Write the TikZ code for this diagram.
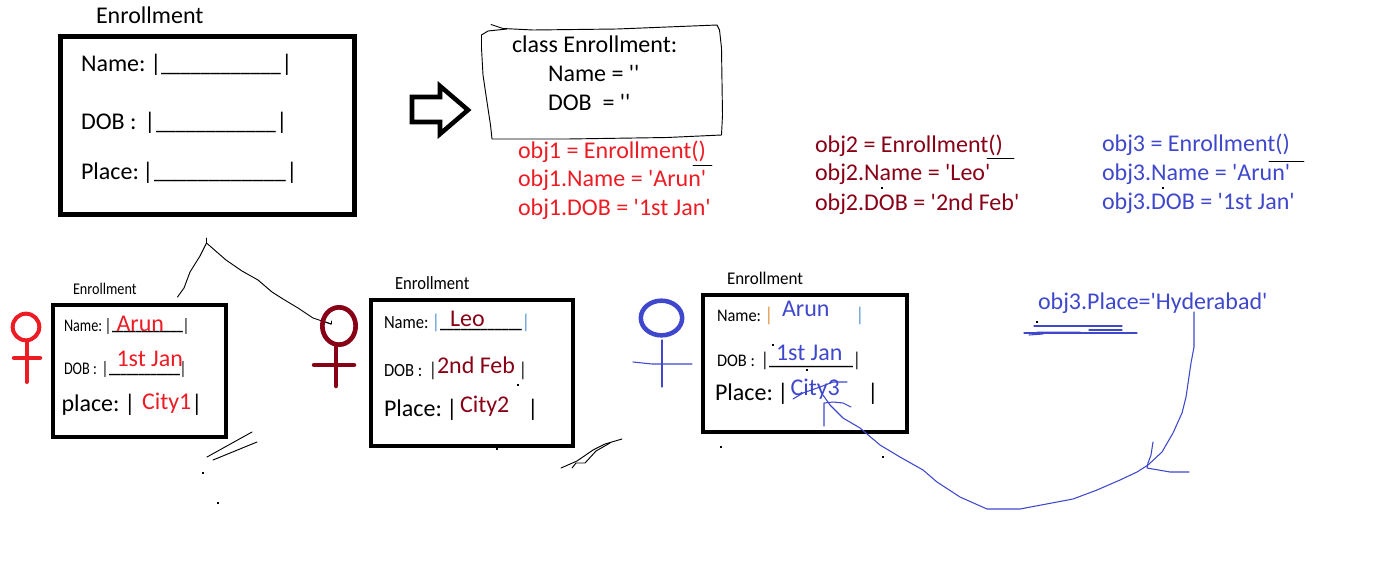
\documentclass[tikz,border=0pt]{standalone}
\usepackage{fontspec}
\usepackage{graphicx}
\usetikzlibrary{shapes.geometric}
\setmainfont[Ligatures=TeXOff]{Carlito}
\definecolor{rd}{HTML}{ED1C24}
\definecolor{mar}{HTML}{880015}
\definecolor{blu}{HTML}{3F48CC}
\definecolor{barb}{HTML}{4A8FCF}
\definecolor{baro}{HTML}{D98A30}
\newlength{\pxu}\setlength{\pxu}{0.75pt}
\newsavebox{\ubx}
\newcommand{\ublank}[1]{\sbox{\ubx}{\_\_\_\_\_\_\_\_\_\_\_\_}\pgfmathsetmacro{\ubr}{#1*0.75/\wd\ubx}\scalebox{\ubr}[1]{\usebox{\ubx}}}
\newcommand{\stretchy}[3]{\scalebox{1}[#2]{\fontsize{#1\pxu}{#1\pxu}\selectfont #3}}
\tikzset{
  txt/.style={anchor=base west,inner sep=0pt,outer sep=0pt,font=\fontsize{18pt}{20pt}\selectfont},
  vbar/.style={anchor=base,inner sep=0pt,outer sep=0pt,font=\fontsize{18pt}{20pt}\selectfont},
  smbar/.style={anchor=base,inner sep=0pt,outer sep=0pt},
  formbox/.style={draw=black,line width=#1*0.75pt,miter limit=10},
  pen/.style={line width=0.8pt,line join=round,line cap=round},
  inkblue/.style={pen,draw=blu},
  inkblack/.style={line width=0.7pt,line join=round,line cap=round,draw=black},
  sym/.style={line width=#1*0.75pt,line cap=round},
  speck/.style={fill=black,inner sep=0pt,minimum size=0.8pt,shape=rectangle},
}
\begin{document}
\begin{tikzpicture}[x=0.75pt,y=-0.75pt]
\useasboundingbox (0,0) rectangle (1400,572);
% ---------- Blank form
\node[txt] (t0) at (96,23) {Enrollment};
\draw[formbox=5] (60.5,36.5) rectangle (354.5,214.5);
\node[txt] (n0) at (81,71) {Name:};
\node[vbar] (n0a) at (156,71) {|};
\node[txt] (n0u) at (161,71) {\ublank{120}};
\node[vbar] (n0b) at (287,71) {|};
\node[txt] (d0) at (81,129) {DOB :};
\node[vbar] (d0a) at (150,129) {|};
\node[txt] (d0u) at (156,129) {\ublank{120}};
\node[vbar] (d0b) at (282,129) {|};
\node[txt] (p0) at (81,179) {Place:};
\node[vbar] (p0a) at (148,179) {|};
\node[txt] (p0u) at (154,178.5) {\ublank{132}};
\node[vbar] (p0b) at (292,179) {|};
% ---------- Arrow
\draw[line width=3.4pt,miter limit=10] (412,97) -- (440,97) -- (440,86) -- (468,110) -- (440,134) -- (440,122) -- (412,122) -- cycle;
% ---------- Class box
\draw[inkblack] (491,24.5) -- (503,28.5) -- (533,30) -- (617,29) -- (717,25) -- (719.5,30) -- (721.5,48) -- (722,82) -- (722.5,115) -- (721.5,135) -- (667,137.5) -- (567,139) -- (492,139) -- (490.5,125) -- (487,102) -- (483,75) -- (481.5,48) -- (481.5,35) -- (488,31) -- (507,29);
\node[txt] (c1) at (512,52) {class Enrollment:};
\node[txt] (c2) at (548,81) {Name = ''};
\node[txt] (c3) at (548,110) {DOB\ \ = ''};
% ---------- Objects
\begin{scope}[every node/.append style={text=rd}]
\node[txt] (o11) at (518,158) {obj1 = Enrollment()};
\node[txt] (o12) at (518,186) {obj1.Name = 'Arun'};
\node[txt] (o13) at (518,215) {obj1.DOB = '1st Jan'};
\end{scope}
\draw[pen,line width=0.6pt] (693,165) -- (712,165);
\begin{scope}[every node/.append style={text=mar}]
\node[txt] (o21) at (815,152) {obj2 = Enrollment()};
\node[txt] (o22) at (815,180) {obj2.Name = 'Leo'};
\node[txt] (o23) at (815,210) {obj2.DOB = '2nd Feb'};
\end{scope}
\draw[pen,line width=0.6pt] (987,158) -- (1014,158);
\begin{scope}[every node/.append style={text=blu}]
\node[txt] (o31) at (1102,151) {obj3 = Enrollment()};
\node[txt] (o32) at (1102,180) {obj3.Name = 'Arun'};
\node[txt] (o33) at (1102,209) {obj3.DOB = '1st Jan'};
\node[txt] (hyd) at (1038,309) {obj3.Place='Hyderabad'};
\end{scope}
\draw[pen,line width=0.6pt] (1269,161) -- (1304,161);
% ---------- Tree from form to two instances
\coordinate (apex) at (206.5,243);
\coordinate (apt) at (206.5,238);
\coordinate (tl) at (177.5,297);
\coordinate (tr) at (331,324);
\draw[inkblack] (apt) -- (apex) -- (200,256) -- (190,272) -- (184,288) -- (tl);
\draw[inkblack] (apex) -- (226,260) -- (242,271) -- (258,280) -- (272,292) -- (283,299) -- (298,308) -- (313,318) -- (tr);
% ---------- Instance 1
\node[txt] (t1) at (73,294) {\stretchy{14.2}{1.15}{Enrollment}};
\draw[formbox=3.7] (53,305) rectangle (226,437);
\node[txt] (n1) at (64,331) {\stretchy{14.2}{1.25}{Name:}};
\node[smbar] (n1a) at (108,331) {\stretchy{15}{1.2}{|}};
\node[txt] (n1u) at (112,329.5) {\ublank{71}};
\node[smbar] (n1b) at (186,331) {\stretchy{15}{1.2}{|}};
\node[txt,text=rd] (n1v) at (116.5,331) {Arun};
\node[txt] (d1) at (64,374) {\stretchy{14.2}{1.25}{DOB :}};
\node[smbar] (d1a) at (105,374) {\stretchy{15}{1.2}{|}};
\node[txt] (d1u) at (109,372.5) {\ublank{71}};
\node[smbar] (d1b) at (183,374) {\stretchy{15}{1.2}{|}};
\node[txt,text=rd] (d1v) at (116.5,366) {1st Jan};
\node[txt] (p1) at (61.5,411) {place:};
\node[vbar] (p1a) at (130,411) {|};
\node[txt,text=rd] (p1v) at (142,409) {City1};
\node[vbar] (p1b) at (197,411) {|};
% Figure 1
\node[circle,draw=rd,line width=3pt,minimum size=20pt,inner sep=0pt] (f1) at (26,327) {};
\draw[draw=rd,sym=4] (26.5,342) -- (26.5,382);
\draw[draw=rd,sym=4.5] (14,358) -- (40,358);
% Scribbles
\draw[inkblack] (207,457) -- (225,447) -- (252,432);
\draw[inkblack] (213,460) -- (235,451) -- (257,442);
\node[speck] (s1) at (203,473) {};
\node[speck] (s2) at (218,503) {};
% ---------- Instance 2
\node[txt] (t2) at (395,289) {\stretchy{16.6}{1.12}{Enrollment}};
\draw[formbox=3.7] (371,300) rectangle (573,446);
\node[txt] (n2) at (384,328) {\stretchy{16.6}{1.12}{Name:}};
\node[smbar,text=barb] (n2a) at (436,328) {\stretchy{16.6}{1.2}{|}};
\node[txt] (n2u) at (440,327.5) {\ublank{82}};
\node[smbar,text=barb] (n2b) at (526,328) {\stretchy{16.6}{1.2}{|}};
\node[txt,text=mar] (n2v) at (450,326) {Leo};
\node[txt] (d2) at (384,376) {\stretchy{16.6}{1.12}{DOB :}};
\node[smbar] (d2a) at (433,376) {\stretchy{16.6}{1.2}{|}};
\node[txt,text=mar] (d2v) at (437,373) {2nd Feb};
\node[smbar] (d2b) at (523,376) {\stretchy{16.6}{1.2}{|}};
\node[txt] (p2) at (384,416) {Place:};
\node[vbar] (p2a) at (452,416) {|};
\node[txt,text=mar] (p2v) at (460,412) {City2};
\node[vbar] (p2b) at (533,416) {|};
% Figure 2
\node[ellipse,draw=mar,line width=3.5pt,minimum width=25pt,minimum height=28pt,inner sep=0pt] (f2) at (339,326) {};
\draw[draw=mar,sym=4.5] (336,347) -- (336,386);
\draw[draw=mar,sym=4.5] (314,365) -- (354,365);
\draw[inkblack] (tr) -- (331,321);
\draw[inkblack] (tr) -- (325.5,322);
% Scribble
\draw[inkblack] (561,468) -- (577,461) -- (593,450) -- (605,444) -- (622,439);
\draw[inkblack] (572,468) -- (576,463) -- (585,463) -- (596,451) -- (610,443);
\node[speck] (s3) at (518,385) {};
\node[speck] (s4) at (497,449) {};
% ---------- Instance 3
\node[txt] (t3) at (727,284) {\stretchy{17}{1.05}{Enrollment}};
\draw[formbox=3.7] (703,295) rectangle (907,432);
\node[txt] (n3) at (717,321) {\stretchy{16.4}{1.08}{Name:}};
\node[smbar,text=baro] (n3a) at (769,321) {\stretchy{16.6}{1.2}{|}};
\node[smbar,text=barb] (n3b) at (860,321) {\stretchy{16.6}{1.2}{|}};
\node[txt,text=blu] (n3v) at (782,316) {Arun};
\node[txt] (d3) at (717,366) {\stretchy{16.4}{1.08}{DOB :}};
\node[smbar] (d3a) at (765,366) {\stretchy{16.6}{1.2}{|}};
\node[txt] (d3u) at (769,364.5) {\ublank{84}};
\node[smbar] (d3b) at (857,366) {\stretchy{16.6}{1.2}{|}};
\node[txt,text=blu] (d3v) at (776,360) {1st Jan};
\node[txt] (p3) at (715,400) {Place:};
\node[vbar] (p3a) at (783,400) {|};
\node[txt,text=blu] (p3v) at (790.5,395) {City3};
\node[vbar] (p3b) at (873,400) {|};
% Figure 3
\node[ellipse,draw=blu,line width=3.4pt,minimum width=31pt,minimum height=26pt,inner sep=0pt] (f3) at (661.5,318) {};
\draw[inkblue] (662,340) -- (662,387);
\draw[inkblue] (633,362) -- (652,364) -- (692,364);
% specks
\node[speck] (s5) at (721,447) {};
\node[speck] (s6) at (883,457) {};
\node[speck] (s7) at (807,370) {};
\node[speck] (s8) at (773,345) {};
\node[speck] (s9) at (882,188) {};
\node[speck] (s10) at (1163,188) {};
\node[speck] (s11) at (1037,322) {};
% ---------- Blue annotation
\coordinate (hs) at (1194,312);
\coordinate (he) at (823,395);
\draw[inkblue] (hs) -- (1194,347) -- (1191,363) -- (1186,397) -- (1182,413) -- (1173,433) -- (1162,452) -- (1148,465) -- (1137,472) -- (1120,480) -- (1097,490) -- (1073,499) -- (1020,509) -- (987,509) -- (960,497) -- (937,482) -- (923,470) -- (900,457) -- (880,445) -- (860,428) -- (843,418) -- (830,405) -- (he);
\draw[inkblue] (824,426) -- (824,403) -- (833,402) -- (843,403) -- (851,407);
\draw[inkblue] (793,399) -- (803,393) -- (820,387) -- (833,382) -- (847,382);
\draw[inkblue] (1153,442) -- (1151,455) -- (1148,463) -- (1147,468) -- (1170,472) -- (1189,472);
\draw[inkblue] (1034,326) -- (1122,326);
\draw[inkblue] (1089,330) -- (1122,330);
\draw[inkblue] (1024,333) -- (1137,333);
\draw[inkblue,line width=1.5pt] (1037,332.7) -- (1080,332.5);
\draw[inkblue] (1029,335) -- (1043,334);
\end{tikzpicture}
\end{document}
